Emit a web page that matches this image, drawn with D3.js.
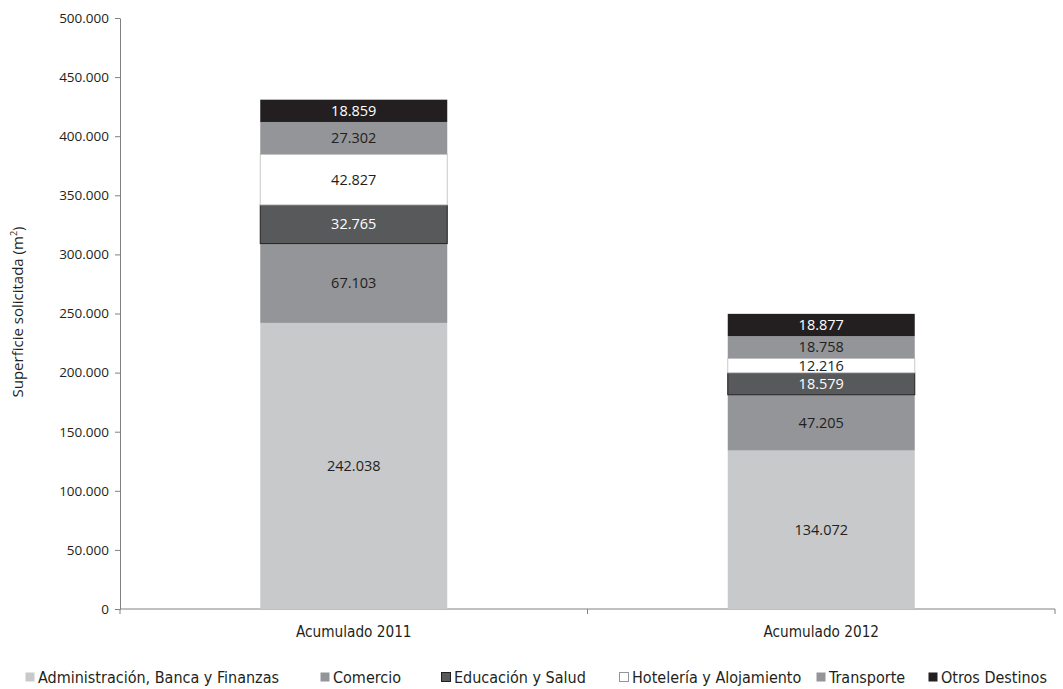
<!DOCTYPE html>
<html>
<head>
<meta charset="utf-8">
<script src="https://cdn.jsdelivr.net/npm/d3@7"></script>
<style>
  html, body { margin: 0; padding: 0; background: #fff; }
  svg { display: block; }
</style>
</head>
<body>
<svg id="chart" width="1063" height="689"></svg>
<script>
// Periods on the x axis
const periods = ["Acumulado 2011", "Acumulado 2012"];

// Destination sectors, stacked bottom to top
const sectors = [
  "Administración, Banca y Finanzas",
  "Comercio",
  "Educación y Salud",
  "Hotelería y Alojamiento",
  "Transporte",
  "Otros Destinos"
];

// Requested floor area (m²) per sector, one value per period
const admin      = [242038, 134072];
const comercio   = [67103, 47205];
const educacion  = [32765, 18579];
const hoteleria  = [42827, 12216];
const transporte = [27302, 18758];
const otros      = [18859, 18877];

// Y axis ticks
const yTicks = [0, 50000, 100000, 150000, 200000, 250000, 300000, 350000, 400000, 450000, 500000];

const series = [admin, comercio, educacion, hoteleria, transporte, otros];

const fills   = ["#c8c9cb", "#939598", "#58595b", "#ffffff", "#939598", "#231f20"];
const strokes = ["none", "none", "#231f20", "#c8c9cb", "none", "none"];
const labelColors = ["#231f20", "#231f20", "#ffffff", "#231f20", "#231f20", "#ffffff"];

const rows = periods.map((p, i) => {
  const r = { period: p };
  sectors.forEach((s, k) => r[s] = series[k][i]);
  return r;
});

const layers = d3.stack().keys(sectors)(rows);

const svg = d3.select("#chart");
const plotLeft = 120, plotRight = 1055, plotTop = 18, plotBottom = 609;

const x = d3.scaleBand().domain(periods).range([plotLeft, plotRight])
  .paddingInner(0.6).paddingOuter(0.3);
const y = d3.scaleLinear().domain([0, 500000]).range([plotBottom, plotTop]);

const loc = d3.formatLocale({ decimal: ",", thousands: ".", grouping: [3], currency: ["", ""] });
const fmt = loc.format(",d");

const tickFont = "'Open Sans', sans-serif";
const condFont = "'Liberation Sans Narrow', 'DejaVu Sans Condensed', sans-serif";

// Y axis
const yAxis = svg.append("g")
  .attr("transform", `translate(${plotLeft},0)`)
  .call(d3.axisLeft(y).tickValues(yTicks).tickFormat(fmt).tickSize(5).tickSizeOuter(0).tickPadding(6));
yAxis.select(".domain").attr("stroke", "#808080");
yAxis.selectAll(".tick line").attr("stroke", "#808080");
yAxis.selectAll(".tick text")
  .attr("fill", "#231f20")
  .style("font-family", tickFont)
  .style("font-size", "13.5px");

// X axis: baseline with category boundary ticks
const xg = svg.append("g");
xg.append("line")
  .attr("x1", plotLeft).attr("x2", plotRight)
  .attr("y1", plotBottom).attr("y2", plotBottom)
  .attr("stroke", "#808080");
const boundaries = [plotLeft, (plotLeft + plotRight) / 2, plotRight];
xg.selectAll("line.bt").data(boundaries).join("line")
  .attr("class", "bt")
  .attr("x1", d => d).attr("x2", d => d)
  .attr("y1", plotBottom).attr("y2", plotBottom + 5)
  .attr("stroke", "#808080");
xg.selectAll("text").data(periods).join("text")
  .attr("x", d => x(d) + x.bandwidth() / 2)
  .attr("y", plotBottom + 28)
  .attr("text-anchor", "middle")
  .attr("fill", "#231f20")
  .style("font-family", condFont)
  .style("font-size", "15.2px")
  .text(d => d);

// Stacked bars
const layerG = svg.append("g").selectAll("g").data(layers).join("g");
layerG.each(function (layer, k) {
  const g = d3.select(this);
  g.selectAll("rect").data(layer).join("rect")
    .attr("x", d => x(d.data.period))
    .attr("width", x.bandwidth())
    .attr("y", d => y(d[1]))
    .attr("height", d => y(d[0]) - y(d[1]))
    .attr("fill", fills[k])
    .attr("stroke", strokes[k])
    .attr("stroke-width", 1);
  g.selectAll("text").data(layer).join("text")
    .attr("x", d => x(d.data.period) + x.bandwidth() / 2)
    .attr("y", d => (y(d[0]) + y(d[1])) / 2)
    .attr("dy", "0.36em")
    .attr("text-anchor", "middle")
    .attr("fill", labelColors[k])
    .style("font-family", tickFont)
    .style("font-size", "14.5px")
    .text(d => fmt(d[1] - d[0]));
});

// Y axis title
const title = svg.append("text")
  .attr("transform", `translate(23,312) rotate(-90)`)
  .attr("text-anchor", "middle")
  .attr("fill", "#231f20")
  .style("font-family", tickFont)
  .style("font-size", "15px");
title.append("tspan").text("Superficie solicitada (m");
title.append("tspan").attr("baseline-shift", "super").style("font-size", "9px").text("2");
title.append("tspan").text(")");

// Legend
const legendX = [25, 320, 441, 619, 816, 928];
const legendStroke = ["none", "none", "#231f20", "#939598", "none", "none"];
const lg = svg.append("g").selectAll("g").data(sectors).join("g")
  .attr("transform", (d, i) => `translate(${legendX[i]},672)`);
lg.append("rect")
  .attr("x", 0.5).attr("y", 0.5)
  .attr("width", 9).attr("height", 9)
  .attr("fill", (d, i) => fills[i])
  .attr("stroke", (d, i) => legendStroke[i]);
lg.append("text")
  .attr("x", 13).attr("y", 5)
  .attr("dy", "0.36em")
  .attr("fill", "#231f20")
  .style("font-family", condFont)
  .style("font-size", "16px")
  .text(d => d);
</script>
</body>
</html>
